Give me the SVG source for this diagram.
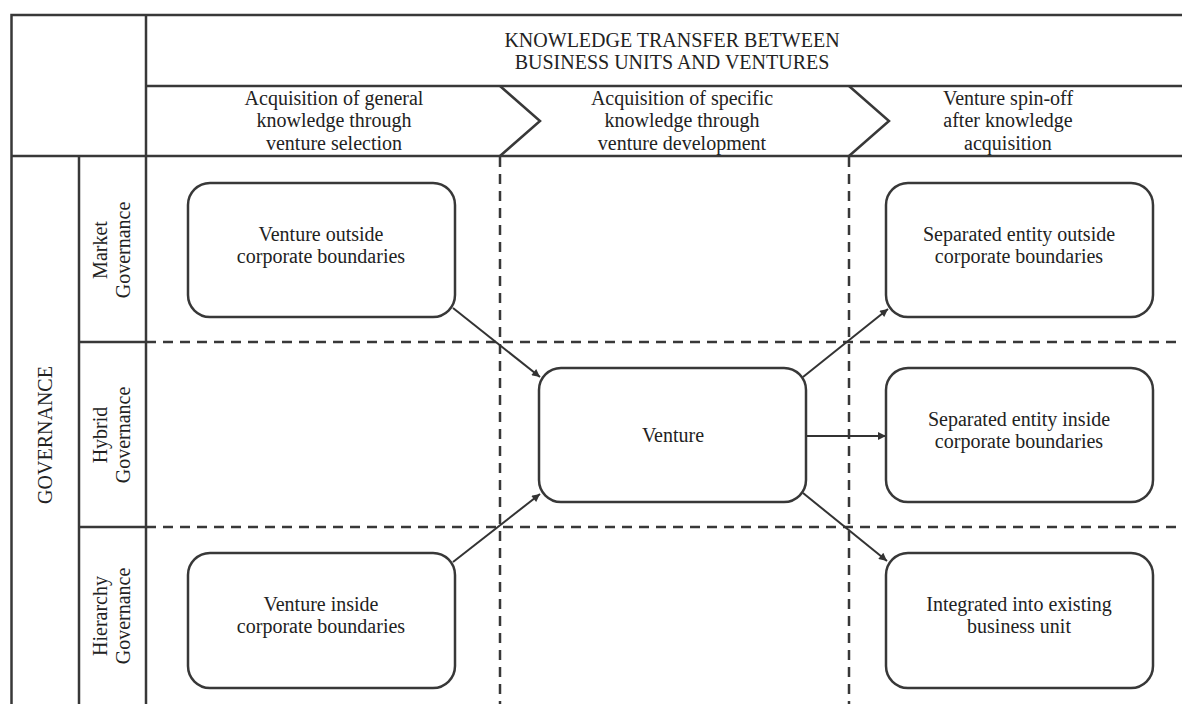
<svg xmlns="http://www.w3.org/2000/svg" width="1182" height="704" viewBox="0 0 1182 704">
<style>
text{font-family:"Liberation Serif","Times New Roman",serif;fill:#222;font-size:20px;text-anchor:middle}
.frame{stroke:#383838;stroke-width:2.5;fill:none}
.dash{stroke:#383838;stroke-width:2.5;fill:none;stroke-dasharray:10 7}
.box{stroke:#383838;stroke-width:2.5;fill:#fff}
.conn{stroke:#333;stroke-width:2;fill:none;marker-end:url(#ah)}
</style>
<defs>
<marker id="ah" viewBox="0 0 10 10" refX="10" refY="5" markerWidth="10" markerHeight="8" markerUnits="userSpaceOnUse" orient="auto">
<path d="M0,0 L10,5 L0,10 z" fill="#333"/>
</marker>
</defs>
<rect width="1182" height="704" fill="#fff"/>
<g id="grid">
<path class="frame" d="M11.5,704 V15 H1182 M146,15 V704 M146,86 H1182 M11.5,156 H1182 M79,156 V704 M79,342 H146 M79,527 H146"/>
<path class="frame" d="M500,86 L540,121 L500,156 M849,86 L889,121 L849,156"/>
<path class="dash" d="M146,342 H1182 M146,527 H1182"/>
<path class="dash" d="M500,157 V704 M849,157 V704"/>
</g>
<g id="header">
<text y="46.8"><tspan x="672">KNOWLEDGE TRANSFER BETWEEN</tspan><tspan x="672" dy="22.5">BUSINESS UNITS AND VENTURES</tspan></text>
<text y="104.5"><tspan x="334">Acquisition of general</tspan><tspan x="334" dy="22.5">knowledge through</tspan><tspan x="334" dy="22.5">venture selection</tspan></text>
<text y="104.5"><tspan x="682">Acquisition of specific</tspan><tspan x="682" dy="22.5">knowledge through</tspan><tspan x="682" dy="22.5">venture development</tspan></text>
<text y="104.5"><tspan x="1008">Venture spin-off</tspan><tspan x="1008" dy="22.5">after knowledge</tspan><tspan x="1008" dy="22.5">acquisition</tspan></text>
</g>
<g id="rowlabels">
<text transform="translate(52,435) rotate(-90)">GOVERNANCE</text>
<text transform="translate(107,250) rotate(-90)"><tspan x="0">Market</tspan><tspan x="0" dy="22.5">Governance</tspan></text>
<text transform="translate(107,435) rotate(-90)"><tspan x="0">Hybrid</tspan><tspan x="0" dy="22.5">Governance</tspan></text>
<text transform="translate(107,616) rotate(-90)"><tspan x="0">Hierarchy</tspan><tspan x="0" dy="22.5">Governance</tspan></text>
</g>
<g id="connectors">
<line class="conn" x1="453" y1="308" x2="540" y2="377"/>
<line class="conn" x1="453" y1="562" x2="540" y2="494"/>
<line class="conn" x1="803" y1="377" x2="888" y2="309"/>
<line class="conn" x1="806" y1="436" x2="886" y2="436"/>
<line class="conn" x1="803" y1="493" x2="887" y2="561"/>
</g>
<g id="n_outside">
<rect class="box" x="188" y="183" width="267" height="134" rx="22"/>
<text y="240.8"><tspan x="321">Venture outside</tspan><tspan x="321" dy="22.5">corporate boundaries</tspan></text>
</g>
<g id="n_inside">
<rect class="box" x="188" y="553" width="267" height="135" rx="22"/>
<text y="610.8"><tspan x="321">Venture inside</tspan><tspan x="321" dy="22.5">corporate boundaries</tspan></text>
</g>
<g id="n_venture">
<rect class="box" x="539" y="368" width="267" height="134" rx="22"/>
<text x="673" y="442">Venture</text>
</g>
<g id="n_sep_out">
<rect class="box" x="886" y="183" width="267" height="134" rx="22"/>
<text y="240.8"><tspan x="1019">Separated entity outside</tspan><tspan x="1019" dy="22.5">corporate boundaries</tspan></text>
</g>
<g id="n_sep_in">
<rect class="box" x="886" y="368" width="267" height="134" rx="22"/>
<text y="425.8"><tspan x="1019">Separated entity inside</tspan><tspan x="1019" dy="22.5">corporate boundaries</tspan></text>
</g>
<g id="n_integrated">
<rect class="box" x="886" y="553" width="267" height="135" rx="22"/>
<text y="610.8"><tspan x="1019">Integrated into existing</tspan><tspan x="1019" dy="22.5">business unit</tspan></text>
</g>
</svg>
